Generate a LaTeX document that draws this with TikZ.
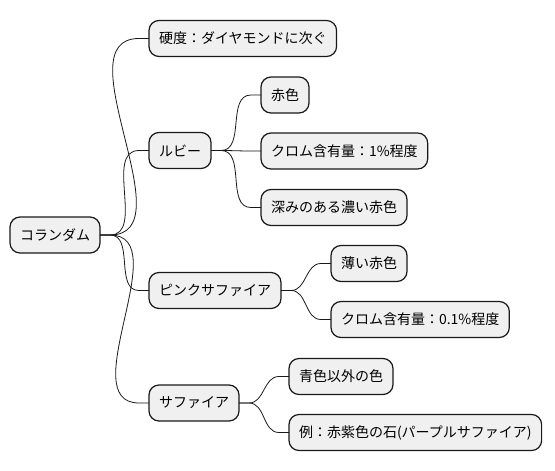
\documentclass[tikz,border=0pt]{standalone}
\usepackage{fontspec}
\setmainfont{Noto Sans CJK JP}
\tikzset{
  topic/.style={draw=black!90, fill=black!6, line width=1.2pt, rounded corners=10pt,
    minimum height=36pt, inner xsep=10pt, outer sep=0pt, anchor=west,
    font=\fontsize{14pt}{16pt}\selectfont},
  branch/.style={draw=black!90, line width=0.8pt}
}
\begin{document}
\begin{tikzpicture}[x=1pt, y=-1pt]
    \useasboundingbox[fill=white] (0,0) rectangle (555,471);
    \node[topic] (root) at (10, 235) {コランダム};
    \node[topic] (hard) at (149, 38.5) {硬度：ダイヤモンドに次ぐ};
    \node[topic] (ruby) at (149, 150.5) {ルビー};
    \node[topic] (red) at (261, 95) {赤色};
    \node[topic] (chrome) at (261, 151) {クロム含有量：1\%程度};
    \node[topic] (deep) at (261, 207.5) {深みのある濃い赤色};
    \node[topic] (pink) at (149, 290.5) {ピンクサファイア};
    \node[topic] (pale) at (331, 263.5) {薄い赤色};
    \node[topic] (chromelow) at (331, 319.5) {クロム含有量：0.1\%程度};
    \node[topic] (sapph) at (149, 403) {サファイア};
    \node[topic] (nonblue) at (289, 376.5) {青色以外の色};
    \node[topic] (example) at (289, 432.5) {例：赤紫色の石(パープルサファイア)};
    % branches
    \foreach \a/\b in {root/hard, root/ruby, root/pink, root/sapph,
        ruby/red, ruby/chrome, ruby/deep, pink/pale, pink/chromelow,
        sapph/nonblue, sapph/example}
        \draw[branch] (\a.east) -- ++(10,0) to[out=0, in=180] ([xshift=-10pt]\b.west) -- (\b.west);
\end{tikzpicture}
\end{document}
